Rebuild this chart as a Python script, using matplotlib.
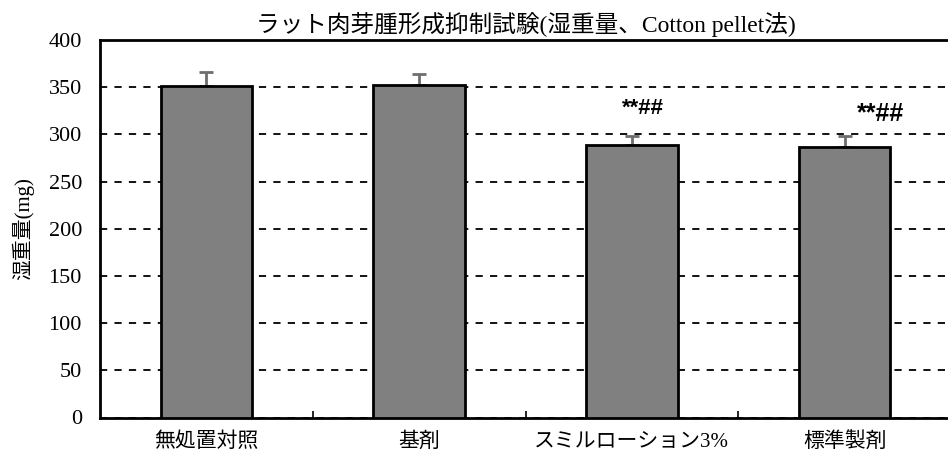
import matplotlib
matplotlib.use('Agg')
from matplotlib import pyplot as plt

plt.rcParams['font.family'] = ['Liberation Serif', 'Noto Sans CJK JP', 'DejaVu Sans']

groups = ['無処置対照', '基剤', 'スミルローション3%', '標準製剤']
wet_weight = [351, 352, 289, 287]
err_upper = [15, 12, 9, 11]
marks = ['', '', '**##', '**##']

fig = plt.figure(figsize=(9.48, 4.55), dpi=100)
ax = fig.add_axes([100 / 948, 37.5 / 455, 851 / 948, 377.5 / 455])

x = list(range(len(groups)))
ax.bar(x, wet_weight, width=0.43, color='#808080', edgecolor='black', linewidth=2, zorder=3)
ax.errorbar(x, wet_weight, yerr=[[0] * len(x), err_upper], fmt='none',
            ecolor='#6e6e6e', elinewidth=2, capsize=5, capthick=2, zorder=2)

# significance marks (placement tweaks per bar)
mark_dx = [0, 0, 0.05, 0.17]
mark_dy = [0, 0, 29, 24]
mark_fs = [0, 0, 16, 18]
for xi, v, e, m in zip(x, wet_weight, err_upper, marks):
    if m:
        ax.text(xi + mark_dx[xi], v + e + mark_dy[xi], m, ha='center', va='center',
                fontsize=mark_fs[xi], fontweight='bold',
                family=['Liberation Sans', 'DejaVu Sans'])

ax.set_xlim(-0.5, 3.5)
ax.set_ylim(0, 400)
ax.set_yticks(range(0, 401, 50))
ax.yaxis.grid(True, linestyle=(0, (4, 4)), color='black', linewidth=1.3, zorder=0)
ax.set_axisbelow(True)
ax.tick_params(axis='y', length=0, labelsize=16, pad=13)

ax.set_xticks([0.5, 1.5, 2.5])
ax.set_xticklabels([])
ax.tick_params(axis='x', which='major', direction='in', length=5, width=1.2)
ax.set_xticks(x, minor=True)
ax.set_xticklabels(groups, minor=True, fontsize=15)
ax.tick_params(axis='x', which='minor', length=0, pad=11)

for s in ['left', 'bottom', 'top']:
    ax.spines[s].set_linewidth(2)
ax.spines['right'].set_visible(False)

ax.set_ylabel('湿重量(mg)', fontsize=15, labelpad=10)
ax.set_title('ラット肉芽腫形成抑制試験(湿重量、Cotton pellet法)', fontsize=17, pad=6)

fig.savefig('out.png', dpi=100)
